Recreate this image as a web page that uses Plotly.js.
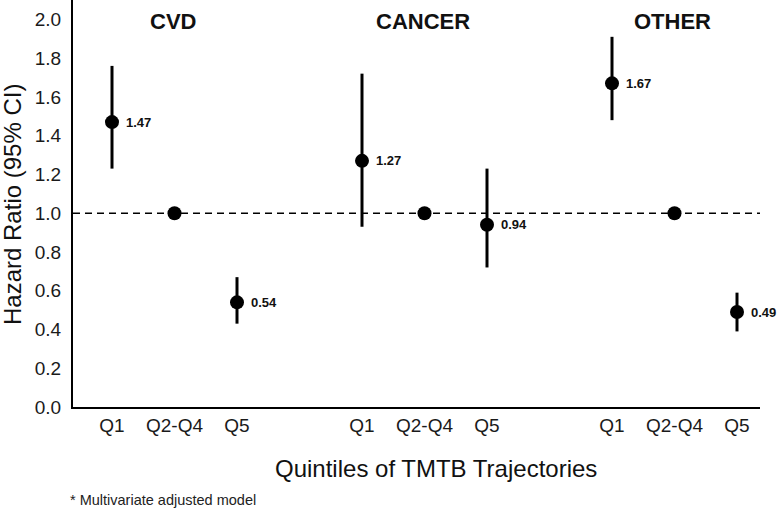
<!DOCTYPE html>
<html>
<head>
<meta charset="utf-8">
<script src="https://cdn.plot.ly/plotly-3.0.1.min.js"></script>
<style>
  html, body { margin: 0; padding: 0; background: #fff; }
  #chart { width: 777px; height: 510px; }
</style>
</head>
<body>
<div id="chart"></div>
<script>
// ---- Data ----
const groups = ["CVD", "CANCER", "OTHER"];
const quintiles = ["Q1", "Q2-Q4", "Q5"];

const cvdHR = [1.47, 1.00, 0.54];
const cvdLow = [1.23, 1.00, 0.43];
const cvdHigh = [1.76, 1.00, 0.67];

const cancerHR = [1.27, 1.00, 0.94];
const cancerLow = [0.93, 1.00, 0.72];
const cancerHigh = [1.72, 1.00, 1.23];

const otherHR = [1.67, 1.00, 0.49];
const otherLow = [1.48, 1.00, 0.39];
const otherHigh = [1.91, 1.00, 0.59];

const referenceIndex = 1; // Q2-Q4 is the reference group
const xAxisTitle = "Quintiles of TMTB Trajectories";
const yAxisTitle = "Hazard Ratio (95% CI)";
const footnote = "* Multivariate adjusted model";

// ---- Build ----
const font = '"Liberation Sans", Arial, Helvetica, sans-serif';
const hrSets = [cvdHR, cancerHR, otherHR];
const lowSets = [cvdLow, cancerLow, otherLow];
const highSets = [cvdHigh, cancerHigh, otherHigh];

const groupStep = quintiles.length + 1;
const traces = [];
const annotations = [];
const tickvals = [];
const ticktext = [];

groups.forEach((g, gi) => {
  const xs = quintiles.map((q, qi) => gi * groupStep + qi);
  xs.forEach((x, qi) => { tickvals.push(x); ticktext.push(quintiles[qi]); });
  const hr = hrSets[gi], lo = lowSets[gi], hi = highSets[gi];
  traces.push({
    type: "scatter",
    mode: "markers",
    x: xs,
    y: hr,
    marker: { color: "#000", size: 14 },
    error_y: {
      type: "data",
      symmetric: false,
      array: hr.map((v, i) => hi[i] - v),
      arrayminus: hr.map((v, i) => v - lo[i]),
      color: "#000",
      thickness: 3,
      width: 0,
    },
    hoverinfo: "skip",
    showlegend: false,
  });
  hr.forEach((v, qi) => {
    if (qi === referenceIndex) return;
    annotations.push({
      x: xs[qi], y: v, xref: "x", yref: "y",
      text: "<b>" + v.toFixed(2) + "</b>",
      showarrow: false, xanchor: "left", yanchor: "middle", xshift: 12,
      font: { family: font, size: 13, color: "#111" },
    });
  });
  annotations.push({
    x: xs[1], y: 0.946, xref: "x", yref: "paper",
    text: "<b>" + g + "</b>",
    showarrow: false, xanchor: "center", yanchor: "middle", xshift: -2,
    font: { family: font, size: 22, color: "#111" },
  });
});

annotations.push({
  x: (12 - 73) / 687, y: 1 - 205 / 407, xref: "paper", yref: "paper",
  text: yAxisTitle, textangle: -90, showarrow: false,
  xanchor: "center", yanchor: "middle",
  font: { family: font, size: 24, color: "#111" },
});
annotations.push({
  x: (436 - 73) / 687, y: -(468 - 407) / 407, xref: "paper", yref: "paper",
  text: xAxisTitle, showarrow: false,
  xanchor: "center", yanchor: "middle",
  font: { family: font, size: 24, color: "#111" },
});
annotations.push({
  x: (68 - 73) / 687, y: -(500 - 407) / 407, xref: "paper", yref: "paper",
  text: footnote, showarrow: false,
  xanchor: "left", yanchor: "middle",
  font: { family: font, size: 14.5, color: "#222" },
});

const layout = {
  width: 777, height: 510,
  margin: { l: 73, r: 17, t: 0, b: 103 },
  paper_bgcolor: "#fff", plot_bgcolor: "#fff",
  font: { family: font, color: "#1a1a1a" },
  showlegend: false,
  xaxis: {
    range: [-0.624, 10.368],
    tickmode: "array", tickvals: tickvals, ticktext: ticktext,
    showgrid: false, zeroline: false,
    showline: true, linecolor: "#000", linewidth: 2,
    ticks: "", tickfont: { family: font, size: 19, color: "#1a1a1a" },
  },
  yaxis: {
    range: [0, 2.1],
    tickvals: [0, 0.2, 0.4, 0.6, 0.8, 1.0, 1.2, 1.4, 1.6, 1.8, 2.0],
    tickformat: ".1f",
    showgrid: false, zeroline: false,
    showline: true, linecolor: "#000", linewidth: 2,
    ticks: "", ticklabelstandoff: 6,
    tickfont: { family: font, size: 19, color: "#1a1a1a" },
  },
  shapes: [{
    type: "line", xref: "paper", yref: "y",
    x0: 0, x1: 1, y0: 1, y1: 1,
    line: { color: "#000", width: 1.5, dash: "7px,5px" },
    layer: "below",
  }],
  annotations: annotations,
};

Plotly.newPlot("chart", traces, layout, { displayModeBar: false, staticPlot: true });
</script>
</body>
</html>
